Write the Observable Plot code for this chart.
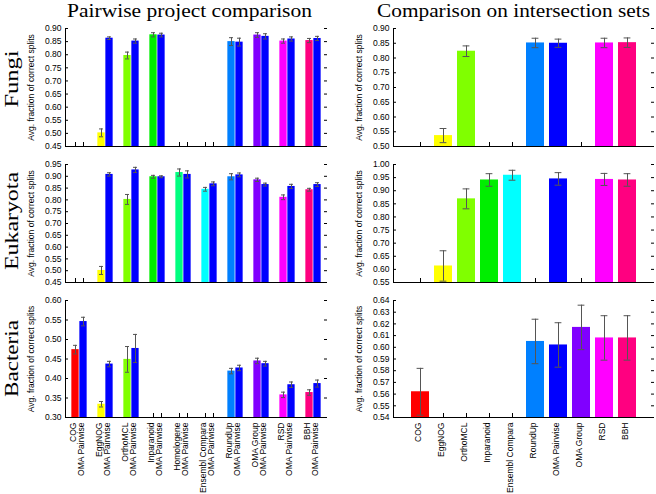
<!DOCTYPE html>
<html><head><meta charset="utf-8">
<script src="https://cdn.jsdelivr.net/npm/d3@7"></script>
<script src="https://cdn.jsdelivr.net/npm/@observablehq/plot@0.6"></script>
<style>
body{margin:0;background:#fff;}
#chart{position:relative;width:656px;height:494px;overflow:hidden;background:#fff;}
</style></head><body><div id="chart"></div>
<script>
// ---------- data ----------
const pairGroups = ["COG","EggNOG","OrthoMCL","Inparanoid","Homologene","Ensembl Compara","RoundUp","OMA Group","RSD","BBH"];
const omaLabel = "OMA Pairwise";
const interProjects = ["COG","EggNOG","OrthoMCL","Inparanoid","Ensembl Compara","RoundUp","OMA Pairwise","OMA Group","RSD","BBH"];
const rowNames = ["Fungi","Eukaryota","Bacteria"];
const colTitles = ["Pairwise project comparison","Comparison on intersection sets"];
const yLabel = "Avg. fraction of correct splits";

// Pairwise (project bar, OMA Pairwise bar), in pairGroups order
const fungiPairTool    = [null, 0.502, 0.797, 0.876, null, null, 0.850, 0.875, 0.852, 0.854];
const fungiPairToolErr = [null, 0.015, 0.013, 0.008, null, null, 0.015, 0.009, 0.008, 0.008];
const fungiPairOMA     = [null, 0.863, 0.852, 0.875, null, null, 0.848, 0.870, 0.860, 0.862];
const fungiPairOMAErr  = [null, 0.005, 0.008, 0.007, null, null, 0.015, 0.010, 0.008, 0.008];

const eukPairTool    = [null, 0.501, 0.802, 0.898, 0.916, 0.845, 0.898, 0.885, 0.811, 0.843];
const eukPairToolErr = [null, 0.017, 0.021, 0.006, 0.015, 0.008, 0.013, 0.007, 0.010, 0.006];
const eukPairOMA     = [null, 0.908, 0.927, 0.898, 0.908, 0.868, 0.906, 0.865, 0.857, 0.865];
const eukPairOMAErr  = [null, 0.007, 0.011, 0.004, 0.015, 0.008, 0.008, 0.006, 0.009, 0.008];

const bacPairTool    = [0.474, 0.334, 0.449, null, null, null, 0.419, 0.445, 0.358, 0.364];
const bacPairToolErr = [0.011, 0.007, 0.033, null, null, null, 0.007, 0.007, 0.007, 0.007];
const bacPairOMA     = [0.546, 0.437, 0.477, null, null, null, 0.427, 0.438, 0.384, 0.387];
const bacPairOMAErr  = [0.011, 0.007, 0.036, null, null, null, 0.007, 0.006, 0.007, 0.009];

// Intersection sets, in interProjects order
const fungiInter    = [null, 0.537, 0.823, null, null, 0.851, 0.850, null, 0.851, 0.852];
const fungiInterErr = [null, 0.024, 0.018, null, null, 0.016, 0.014, null, 0.016, 0.016];
const eukInter      = [null, 0.613, 0.869, 0.941, 0.959, null, 0.945, null, 0.943, 0.941];
const eukInterErr   = [null, 0.058, 0.038, 0.024, 0.019, null, 0.024, null, 0.023, 0.024];
const bacInter      = [0.562, null, null, null, null, 0.605, 0.602, 0.617, 0.608, 0.608];
const bacInterErr   = [0.020, null, null, null, null, 0.019, 0.019, 0.019, 0.019, 0.019];

// tick values
const fungiPairTicks = [0.45,0.50,0.55,0.60,0.65,0.70,0.75,0.80,0.85,0.90];
const eukPairTicks   = [0.45,0.50,0.55,0.60,0.65,0.70,0.75,0.80,0.85,0.90,0.95];
const bacPairTicks   = [0.30,0.35,0.40,0.45,0.50,0.55,0.60];
const fungiInterTicks = [0.50,0.55,0.60,0.65,0.70,0.75,0.80,0.85,0.90];
const eukInterTicks   = [0.55,0.60,0.65,0.70,0.75,0.80,0.85,0.90,0.95,1.00];
const bacInterTicks   = [0.54,0.55,0.56,0.57,0.58,0.59,0.60,0.61,0.62,0.63,0.64];

// ---------- styles ----------
const projectColor = {
  "COG":"#ff0000","EggNOG":"#ffff00","OrthoMCL":"#80ff00","Inparanoid":"#00ee00",
  "Homologene":"#00ff80","Ensembl Compara":"#00ffff","RoundUp":"#0080ff",
  "OMA Pairwise":"#0000ff","OMA Group":"#8000ff","RSD":"#ff00ff","BBH":"#ff0080"
};
const errColor = "#555";
const plotStyle = {fontFamily:"'Liberation Sans', Arial, sans-serif", fontSize:"8.5px", color:"#000", background:"none", overflow:"visible"};
const chart = document.getElementById("chart");
function place(el, left, top){ el.style.position="absolute"; el.style.left=left+"px"; el.style.top=top+"px"; chart.appendChild(el); }

function withErr(rows){ return rows.filter(d=>d.value!=null).map(d=>({...d, lo:d.value-d.err, hi:d.value+d.err})); }

function barMarks(rows, y0, dx, inset, capInset){
  const r = withErr(rows);
  return [
    Plot.barY(r, {x:"group", y1:y0, y2:"value", fill:"color", dx, insetLeft:inset, insetRight:inset}),
    Plot.ruleX(r, {x:"group", y1:"lo", y2:"hi", dx, stroke:errColor, strokeWidth:1, clip:true}),
    Plot.tickY(r, {x:"group", y:"lo", dx, insetLeft:capInset, insetRight:capInset, stroke:errColor, clip:true}),
    Plot.tickY(r, {x:"group", y:"hi", dx, insetLeft:capInset, insetRight:capInset, stroke:errColor, clip:true})
  ];
}

function axesMarks(ticks, xOffsets){
  const m = [
    Plot.axisY({ticks, tickFormat:".2f", tickSize:0, tickPadding:4, label:yLabel, labelAnchor:"center", labelOffset:38, labelArrow:"none"}),
    Plot.axisY({ticks, tickSize:3, dx:3, fill:"none", label:null}),
    Plot.axisY({anchor:"right", ticks, tickSize:3, dx:-3, fill:"none", label:null}),
  ];
  for (const o of xOffsets) m.push(Plot.axisX({tickSize:4, dy:-4, dx:o, fill:"none", label:null}));
  return m;
}

function pairPanel(tool, toolErr, oma, omaErr, ticks, showLabels, height, marginBottom){
  const t = pairGroups.map((g,i)=>({group:g, label:g, value:tool[i], err:toolErr[i], color:projectColor[g]}));
  const o = pairGroups.map((g,i)=>({group:g, label:omaLabel, value:oma[i], err:omaErr[i], color:projectColor[omaLabel]}));
  const y0 = ticks[0];
  const marks = [
    ...axesMarks(ticks, [-4, 4]),
    ...barMarks(t, y0, -4, 9.35, 11),
    ...barMarks(o, y0, 4, 9.35, 11),
    Plot.frame({anchor:"left"}),
    Plot.frame({anchor:"bottom"})
  ];
  if (showLabels) {
    marks.push(Plot.text(t, {x:"group", text:"label", frameAnchor:"bottom", rotate:-90, textAnchor:"end", dy:5, dx:-4}));
    marks.push(Plot.text(o, {x:"group", text:"label", frameAnchor:"bottom", rotate:-90, textAnchor:"end", dy:5, dx:4}));
  }
  return Plot.plot({
    width:310, height, marginLeft:45, marginRight:4, marginTop:6, marginBottom,
    style:plotStyle,
    x:{type:"band", domain:pairGroups, padding:0},
    y:{domain:[ticks[0], ticks[ticks.length-1]]},
    color:{type:"identity"},
    marks
  });
}

function interPanel(vals, errs, ticks, showLabels, height, marginBottom){
  const rows = interProjects.map((p,i)=>({group:p, label:p, value:vals[i], err:errs[i], color:projectColor[p]}));
  const marks = [
    ...axesMarks(ticks, [0]),
    ...barMarks(rows, ticks[0], 0, 0, 5.6),
    Plot.frame({anchor:"left"}),
    Plot.frame({anchor:"bottom"})
  ];
  if (showLabels) marks.push(Plot.text(rows, {x:"group", text:"label", frameAnchor:"bottom", rotate:-90, textAnchor:"end", dy:5}));
  return Plot.plot({
    width:316, height, marginLeft:53, marginRight:3, marginTop:6, marginBottom,
    style:plotStyle,
    x:{type:"band", domain:interProjects, paddingInner:0.23, paddingOuter:0.615},
    y:{domain:[ticks[0], ticks[ticks.length-1]]},
    color:{type:"identity"},
    marks
  });
}

place(pairPanel(fungiPairTool, fungiPairToolErr, fungiPairOMA, fungiPairOMAErr, fungiPairTicks, false, 130, 6), 20, 22);
place(pairPanel(eukPairTool, eukPairToolErr, eukPairOMA, eukPairOMAErr, eukPairTicks, false, 130, 6), 20, 158);
place(pairPanel(bacPairTool, bacPairToolErr, bacPairOMA, bacPairOMAErr, bacPairTicks, true, 200, 77), 20, 294);
place(interPanel(fungiInter, fungiInterErr, fungiInterTicks, false, 130, 6), 340, 22);
place(interPanel(eukInter, eukInterErr, eukInterTicks, false, 130, 6), 340, 158);
place(interPanel(bacInter, bacInterErr, bacInterTicks, true, 200, 77), 340, 294);

// ---------- titles and row labels ----------
const NS = "http://www.w3.org/2000/svg";
const ov = document.createElementNS(NS, "svg");
ov.setAttribute("width", 656); ov.setAttribute("height", 494);
ov.style.position="absolute"; ov.style.left="0px"; ov.style.top="0px"; ov.style.pointerEvents="none";
function addText(str, x, y, size, len, rot){
  const t = document.createElementNS(NS, "text");
  t.textContent = str;
  t.setAttribute("text-anchor","middle");
  t.setAttribute("font-family","'Liberation Serif', 'DejaVu Serif', serif");
  t.setAttribute("font-size", size);
  t.setAttribute("textLength", len);
  t.setAttribute("lengthAdjust","spacingAndGlyphs");
  t.setAttribute("transform", `translate(${x},${y})` + (rot ? ` rotate(${rot})` : ""));
  ov.appendChild(t);
}
addText(colTitles[0], 189.5, 17, 18, 245, 0);
addText(colTitles[1], 513.5, 17, 18, 273, 0);
addText(rowNames[0], 18, 79, 19, 57, -90);
addText(rowNames[1], 18, 221, 19, 98, -90);
addText(rowNames[2], 18, 358.5, 19, 77, -90);
chart.appendChild(ov);
</script></body></html>
